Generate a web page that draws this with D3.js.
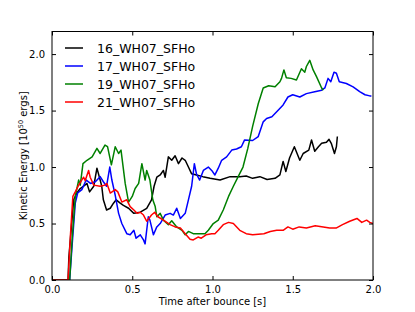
<!DOCTYPE html>
<html><head><meta charset="utf-8">
<script src="https://cdn.jsdelivr.net/npm/d3@7"></script>
<style>body{margin:0;background:#fff}svg{display:block}text{font-family:"DejaVu Sans",sans-serif}</style>
</head><body>
<script>
const seriesNames = ["16_WH07_SFHo","17_WH07_SFHo","19_WH07_SFHo","21_WH07_SFHo"];
const seriesColors = ["#000000","#0000ff","#008000","#ff0000"];
const xTicks = [0,0.5,1.0,1.5,2.0];
const yTicks = [0,0.5,1.0,1.5,2.0];

const s16 = [[0,0],[0.1,0],[0.105,0.2],[0.135,0.71],[0.155,0.77],[0.176,0.81],[0.197,0.83],[0.218,0.855],[0.234,0.78],[0.26,0.83],[0.28,0.99],[0.30,0.885],[0.31,0.83],[0.32,0.71],[0.34,0.62],[0.363,0.635],[0.383,0.68],[0.40,0.71],[0.425,0.68],[0.445,0.66],[0.477,0.635],[0.51,0.59],[0.55,0.60],[0.59,0.635],[0.62,0.71],[0.636,0.83],[0.653,0.91],[0.674,0.93],[0.694,0.97],[0.705,0.91],[0.725,1.09],[0.746,1.06],[0.767,1.10],[0.788,1.03],[0.81,1.08],[0.83,1.06],[0.85,1.00],[0.87,0.94],[0.90,0.93],[0.94,0.915],[0.985,0.90],[1.047,0.885],[1.11,0.915],[1.17,0.915],[1.21,0.92],[1.25,0.90],[1.295,0.915],[1.34,0.89],[1.39,0.90],[1.42,0.93],[1.44,1.05],[1.457,0.96],[1.48,1.08],[1.51,1.18],[1.544,1.06],[1.565,1.12],[1.60,1.15],[1.617,1.24],[1.637,1.14],[1.66,1.18],[1.68,1.21],[1.71,1.22],[1.726,1.245],[1.74,1.21],[1.76,1.12],[1.772,1.18],[1.778,1.27]];

const s17 = [[0,0],[0.11,0],[0.125,0.3],[0.145,0.68],[0.16,0.77],[0.186,0.80],[0.213,0.885],[0.24,0.855],[0.27,0.87],[0.30,0.915],[0.32,0.87],[0.34,0.83],[0.36,1.00],[0.373,0.885],[0.394,0.75],[0.415,0.59],[0.435,0.50],[0.466,0.41],[0.487,0.40],[0.51,0.44],[0.524,0.37],[0.55,0.40],[0.57,0.355],[0.58,0.32],[0.60,0.56],[0.61,0.53],[0.632,0.40],[0.653,0.47],[0.674,0.50],[0.705,0.575],[0.736,0.59],[0.756,0.575],[0.777,0.635],[0.80,0.545],[0.83,0.59],[0.85,0.71],[0.87,0.83],[0.887,1.03],[0.90,0.94],[0.92,0.885],[0.943,0.97],[0.974,1.00],[0.995,0.97],[1.015,0.93],[1.036,0.99],[1.057,1.06],[1.088,1.09],[1.12,1.15],[1.15,1.16],[1.18,1.18],[1.20,1.24],[1.25,1.235],[1.285,1.27],[1.316,1.40],[1.337,1.43],[1.37,1.445],[1.40,1.49],[1.44,1.55],[1.47,1.62],[1.50,1.64],[1.544,1.62],[1.585,1.65],[1.637,1.667],[1.68,1.68],[1.70,1.70],[1.72,1.785],[1.737,1.755],[1.757,1.84],[1.772,1.83],[1.79,1.755],[1.834,1.74],[1.876,1.71],[1.917,1.667],[1.95,1.64],[1.98,1.63],[1.99,1.63]];

const s19 = [[0,0],[0.11,0],[0.125,0.35],[0.145,0.74],[0.166,0.885],[0.176,0.84],[0.193,1.03],[0.218,1.06],[0.25,1.09],[0.28,1.165],[0.30,1.12],[0.33,1.195],[0.346,1.18],[0.37,1.02],[0.394,1.18],[0.415,1.12],[0.43,1.15],[0.456,0.855],[0.477,0.69],[0.50,0.74],[0.518,0.81],[0.54,0.855],[0.56,1.03],[0.58,0.885],[0.59,0.97],[0.61,0.885],[0.628,0.71],[0.643,0.65],[0.653,0.56],[0.674,0.59],[0.694,0.53],[0.725,0.49],[0.746,0.525],[0.777,0.47],[0.81,0.44],[0.83,0.40],[0.85,0.43],[0.88,0.41],[0.92,0.41],[0.953,0.41],[0.974,0.44],[1.005,0.50],[1.036,0.53],[1.067,0.62],[1.10,0.74],[1.13,0.83],[1.16,0.915],[1.19,1.00],[1.22,1.165],[1.25,1.36],[1.285,1.56],[1.316,1.70],[1.35,1.72],[1.39,1.71],[1.42,1.755],[1.43,1.785],[1.445,1.86],[1.46,1.79],[1.49,1.785],[1.523,1.77],[1.554,1.87],[1.575,1.84],[1.585,1.89],[1.606,1.945],[1.627,1.86],[1.648,1.80],[1.68,1.70],[1.69,1.68]];

const s21 = [[0,0],[0.1,0],[0.115,0.4],[0.13,0.74],[0.145,0.78],[0.166,0.84],[0.197,0.91],[0.207,0.88],[0.228,0.97],[0.238,0.91],[0.26,0.84],[0.30,0.83],[0.33,0.84],[0.342,0.855],[0.363,0.77],[0.394,0.80],[0.41,0.78],[0.435,0.69],[0.466,0.71],[0.487,0.65],[0.51,0.62],[0.53,0.59],[0.55,0.60],[0.57,0.575],[0.59,0.52],[0.62,0.575],[0.64,0.60],[0.66,0.56],[0.694,0.53],[0.736,0.49],[0.767,0.47],[0.80,0.46],[0.83,0.41],[0.86,0.36],[0.88,0.355],[0.91,0.38],[0.93,0.37],[0.96,0.40],[0.995,0.41],[1.015,0.41],[1.036,0.44],[1.067,0.49],[1.10,0.51],[1.13,0.50],[1.17,0.44],[1.21,0.41],[1.25,0.40],[1.32,0.41],[1.36,0.43],[1.40,0.44],[1.44,0.44],[1.47,0.47],[1.50,0.45],[1.54,0.47],[1.585,0.46],[1.64,0.48],[1.69,0.47],[1.73,0.46],[1.77,0.46],[1.81,0.49],[1.855,0.52],[1.90,0.545],[1.93,0.51],[1.96,0.53],[1.98,0.51],[2.0,0.50]];

const seriesData = [s16, s17, s19, s21];

const W = 415, H = 312;
const m = {left:52, right:373, top:31.5, bottom:280};
const svg = d3.select("body").append("svg").attr("width",W).attr("height",H);
const x = d3.scaleLinear().domain([0,2]).range([m.left,m.right]);
const y = d3.scaleLinear().domain([0,2.2]).range([m.bottom,m.top]);

const g = svg.append("g");
const clip = svg.append("clipPath").attr("id","c").append("rect")
  .attr("x",m.left).attr("y",m.top).attr("width",m.right-m.left).attr("height",m.bottom-m.top);

const line = d3.line().x(d=>x(d[0])).y(d=>y(d[1]));
seriesData.forEach((d,i)=>{
  svg.append("path").attr("d",line(d)).attr("fill","none")
    .attr("stroke",seriesColors[i]).attr("stroke-width",1.5)
    .attr("stroke-linejoin","round").attr("clip-path","url(#c)");
});

// frame
svg.append("rect").attr("x",m.left).attr("y",m.top).attr("width",m.right-m.left).attr("height",m.bottom-m.top)
  .attr("fill","none").attr("stroke","#000").attr("stroke-width",1);

const fmt = d3.format(".1f");
// bottom axis
const xb = svg.append("g").attr("transform",`translate(0,${m.bottom})`)
  .call(d3.axisBottom(x).tickValues(xTicks).tickFormat(fmt).tickSizeInner(-4).tickSizeOuter(0).tickPadding(6));
const xt = svg.append("g").attr("transform",`translate(0,${m.top})`)
  .call(d3.axisTop(x).tickValues(xTicks).tickFormat("").tickSizeInner(-4).tickSizeOuter(0));
const yl = svg.append("g").attr("transform",`translate(${m.left},0)`)
  .call(d3.axisLeft(y).tickValues(yTicks).tickFormat(fmt).tickSizeInner(-4).tickSizeOuter(0).tickPadding(7));
const yr = svg.append("g").attr("transform",`translate(${m.right},0)`)
  .call(d3.axisRight(y).tickValues(yTicks).tickFormat("").tickSizeInner(-4).tickSizeOuter(0));
[xb,xt,yl,yr].forEach(a=>{
  a.select(".domain").remove();
  a.selectAll("text").attr("font-family","DejaVu Sans").attr("font-size",10).attr("fill","#000");
  a.selectAll("line").attr("stroke","#000");
});

svg.append("text").attr("x",(m.left+m.right)/2).attr("y",305).attr("text-anchor","middle")
  .attr("font-size",10).text("Time after bounce [s]");
const yt = svg.append("text").attr("transform",`translate(27,${(m.top+m.bottom)/2}) rotate(-90)`)
  .attr("text-anchor","middle").attr("font-size",10);
yt.append("tspan").text("Kinetic Energy [10");
yt.append("tspan").attr("font-size",6.5).attr("dy",-4).text("50");
yt.append("tspan").attr("dy",4).text(" ergs]");

// legend
const lg = svg.append("g");
seriesNames.forEach((n,i)=>{
  const yy = 48 + i*18;
  lg.append("line").attr("x1",65).attr("x2",83).attr("y1",yy).attr("y2",yy)
    .attr("stroke",seriesColors[i]).attr("stroke-width",1.5);
  lg.append("text").attr("x",97).attr("y",yy+4.5).attr("font-size",12.5).text(n);
});
</script>
</body></html>
